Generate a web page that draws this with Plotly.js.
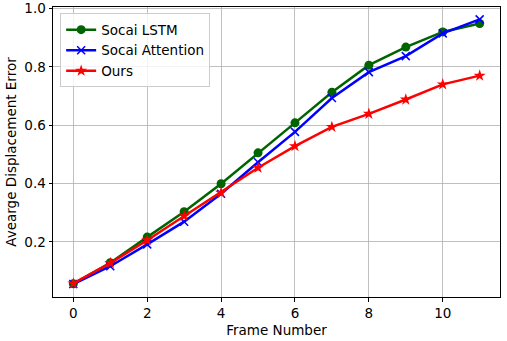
<!DOCTYPE html>
<html>
<head>
<meta charset="utf-8">
<script src="https://cdn.plot.ly/plotly-3.0.1.min.js"></script>
<style>html,body{margin:0;padding:0;background:#fff;}#chart{width:507px;height:341px;}</style>
</head>
<body>
<div id="chart"></div>
<script>
const frames = [0,1,2,3,4,5,6,7,8,9,10,11];
const socaiLSTM = [0.056,0.128,0.216,0.303,0.399,0.505,0.608,0.713,0.806,0.868,0.920,0.949];
const socaiAttention = [0.055,0.116,0.191,0.269,0.365,0.473,0.577,0.693,0.782,0.837,0.915,0.963];
const ours = [0.057,0.127,0.205,0.288,0.368,0.454,0.528,0.594,0.639,0.688,0.740,0.770];
const xTicks = [0,2,4,6,8,10];
const yTicks = [0.2,0.4,0.6,0.8,1.0];
const yTickLabels = ['0.2','0.4','0.6','0.8','1.0'];

const font = {family:'DejaVu Sans, sans-serif', size:13.5, color:'#000'};
const traces = [
  {x:frames, y:socaiLSTM, name:'Socai LSTM', mode:'lines+markers',
   line:{color:'#006400', width:2.5}, marker:{symbol:'circle', size:9, color:'#006400'}},
  {x:frames, y:socaiAttention, name:'Socai Attention', mode:'lines+markers',
   line:{color:'#0000ff', width:2.5}, marker:{symbol:'x-thin', size:8, color:'#0000ff', line:{color:'#0000ff', width:1.5}}},
  {x:frames, y:ours, name:'Ours', mode:'lines+markers',
   line:{color:'#ff0000', width:2.5}, marker:{symbol:'star', size:9, color:'#ff0000'}}
];
const axisCommon = {showline:true, mirror:true, linecolor:'#000', linewidth:1, ticks:'outside', ticklen:3.5, tickcolor:'#000', tickwidth:1,
  showgrid:true, gridcolor:'#b0b0b0', gridwidth:0.8, zeroline:false, tickfont:font};
const layout = {
  width:507, height:341, margin:{l:53, r:7, t:7, b:44},
  paper_bgcolor:'#fff', plot_bgcolor:'#fff', font:font,
  xaxis:Object.assign({}, axisCommon, {range:[-0.55,11.55], tickvals:xTicks, title:{text:'Frame Number', font:font, standoff:5}}),
  yaxis:Object.assign({}, axisCommon, {range:[0.0105,1.0055], tickvals:yTicks, ticktext:yTickLabels, title:{text:'Avearge Displacement Error', font:font, standoff:4}}),
  legend:{x:0.016, y:0.978, xanchor:'left', yanchor:'top', bgcolor:'rgba(255,255,255,0.8)', bordercolor:'#cccccc', borderwidth:1, font:font, tracegroupgap:0, itemwidth:30},
  showlegend:true
};
Plotly.newPlot('chart', traces, layout, {displayModeBar:false, staticPlot:true});
</script>
</body>
</html>
